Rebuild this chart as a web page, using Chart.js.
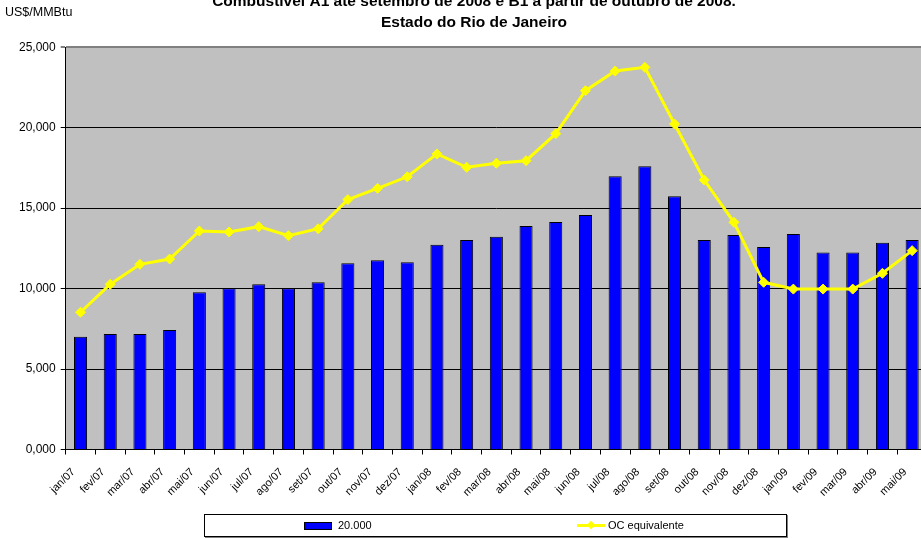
<!DOCTYPE html>
<html>
<head>
<meta charset="utf-8">
<script src="https://cdn.jsdelivr.net/npm/chart.js@4.4.1/dist/chart.umd.min.js"></script>
<style>
    html, body { margin: 0; padding: 0; background: #fff; overflow: hidden; width: 921px; height: 538px; }
    #chartCanvas { position: absolute; left: 0; top: -14px; }
    #legendBox {
        position: absolute; left: 204px; top: 514px; width: 581px; height: 21px;
        border: 1px solid #000; box-shadow: 1px 1px 0 #808080;
        font: 11px "Liberation Sans", Arial, sans-serif; color: #000;
    }
    .legItem { position: absolute; top: 4px; height: 13px; line-height: 13px; white-space: nowrap; }
    .legSwatch { position: absolute; top: 3px; width: 26px; height: 6px; background: #0000ff; border: 1px solid #000; }
    .legLine { position: absolute; top: 5px; width: 28px; height: 3px; background: #ffff00; }
    .legDiamond { position: absolute; top: 3px; left: 11px; width: 6px; height: 6px; background: #ffff00; transform: rotate(45deg); }
</style>
</head>
<body>
<canvas id="chartCanvas" width="948" height="552"></canvas>
<div id="legendBox"></div>

<script>
// DATA (US$/MMBtu)
const months = [
    "jan/07", "fev/07", "mar/07", "abr/07", "mai/07", "jun/07", "jul/07", "ago/07", "set/07", "out/07", "nov/07", "dez/07",
    "jan/08", "fev/08", "mar/08", "abr/08", "mai/08", "jun/08", "jul/08", "ago/08", "set/08", "out/08", "nov/08", "dez/08",
    "jan/09", "fev/09", "mar/09", "abr/09", "mai/09"
];

const barLabel = "20.000";
const barValues = [
    7.01, 7.18, 7.18, 7.43, 9.77, 10.02, 10.27, 10.02, 10.39, 11.57, 11.76, 11.63,
    12.73, 13.02, 13.23, 13.89, 14.14, 14.57, 16.98, 17.60, 15.74, 13.02, 13.33, 12.59,
    13.39, 12.25, 12.25, 12.85, 13.02
];

const lineLabel = "OC equivalente";
const lineValues = [
    8.53, 10.27, 11.51, 11.84, 13.58, 13.52, 13.85, 13.29, 13.72, 15.53, 16.23, 16.95,
    18.37, 17.54, 17.79, 17.95, 19.63, 22.30, 23.52, 23.75, 20.23, 16.75, 14.12, 10.39,
    9.97, 9.97, 9.97, 10.95, 12.36
];

const titleLines = [
    "Combustível A1 até setembro de 2008 e B1 a partir de outubro de 2008.",
    "Estado do Rio de Janeiro"
];
const unitLabel = "US$/MMBtu";

const yTicks = { min: 0, max: 25, step: 5 };

/* -------- plugins -------- */

// grey plot background
const plotBg = {
    id: "plotBg",
    beforeDraw(chart) {
        const { ctx, chartArea: a } = chart;
        ctx.save();
        ctx.fillStyle = "#c0c0c0";
        ctx.fillRect(a.left, a.top, a.right - a.left, a.bottom - a.top);
        ctx.restore();
    }
};

// unit label in the top-left corner
const unitText = {
    id: "unitText",
    afterDraw(chart) {
        const ctx = chart.ctx;
        ctx.save();
        ctx.font = "12.5px 'Liberation Sans', Arial, sans-serif";
        ctx.fillStyle = "#000";
        ctx.textAlign = "left";
        ctx.textBaseline = "middle";
        ctx.fillText(unitLabel, 5, 27);
        ctx.restore();
    }
};

Chart.defaults.font.family = "'Liberation Sans', Arial, sans-serif";
Chart.defaults.color = "#000";

const fmt = v => v.toFixed(3).replace(".", ",");

new Chart(document.getElementById("chartCanvas"), {
    type: "bar",
    data: {
        labels: months,
        datasets: [
            {
                type: "line",
                label: lineLabel,
                data: lineValues,
                borderColor: "#ffff00",
                backgroundColor: "#ffff00",
                borderWidth: 3,
                tension: 0,
                pointStyle: "rectRot",
                pointRadius: 5,
                pointBorderWidth: 1,
                pointBackgroundColor: "#ffff00",
                pointBorderColor: "#ffff00",
                order: 0
            },
            {
                type: "bar",
                label: barLabel,
                data: barValues,
                backgroundColor: "#0000ff",
                borderColor: "#000",
                borderWidth: 1,
                barPercentage: 0.44,
                categoryPercentage: 1,
                order: 1
            }
        ]
    },
    options: {
        responsive: false,
        animation: false,
        layout: { padding: { left: 0, right: 0, top: 0, bottom: 38.5 } },
        plugins: {
            legend: { display: false },
            tooltip: { enabled: false },
            title: {
                display: true,
                text: titleLines,
                font: { size: 15.5, weight: "bold", lineHeight: 1.35 },
                color: "#000",
                padding: { top: 5, bottom: 14.4 }
            }
        },
        scales: {
            x: {
                grid: { offset: true, drawOnChartArea: false, color: "#000", tickLength: 5 },
                border: { color: "#000" },
                ticks: { font: { size: 11 }, maxRotation: 45, minRotation: 45, padding: 11, labelOffset: -7, autoSkip: false },
                afterFit(scale) { scale.height = 50; }
            },
            y: {
                min: yTicks.min,
                max: yTicks.max,
                grid: {
                    color: ctx => (ctx.tick && ctx.tick.value === yTicks.max) ? "#808080" : "#000",
                    lineWidth: ctx => (ctx.tick && ctx.tick.value === yTicks.max) ? 2 : 1,
                    tickLength: 5
                },
                border: { color: "#000" },
                ticks: { stepSize: yTicks.step, font: { size: 12 }, padding: 5, callback: v => fmt(v) },
                afterFit(scale) { scale.width = 65.7; }
            },
            // empty right-hand spacer (the plot runs past the picture's right edge)
            yRight: {
                type: "linear",
                position: "right",
                grid: { display: false },
                border: { display: false },
                ticks: { display: false },
                afterFit(scale) { scale.width = 21; }
            }
        }
    },
    plugins: [plotBg, unitText]
});

/* -------- legend (html) -------- */

const legendBox = document.getElementById("legendBox");
legendBox.innerHTML = `
    <div class="legItem" style="left:99px;"><span class="legSwatch" style="left:0;"></span><span style="position:absolute;left:34px;">${barLabel}</span></div>
    <div class="legItem" style="left:372px;"><span class="legLine" style="left:0;"></span><span class="legDiamond"></span><span style="position:absolute;left:31px;">${lineLabel}</span></div>
`;
</script>
</body>
</html>
